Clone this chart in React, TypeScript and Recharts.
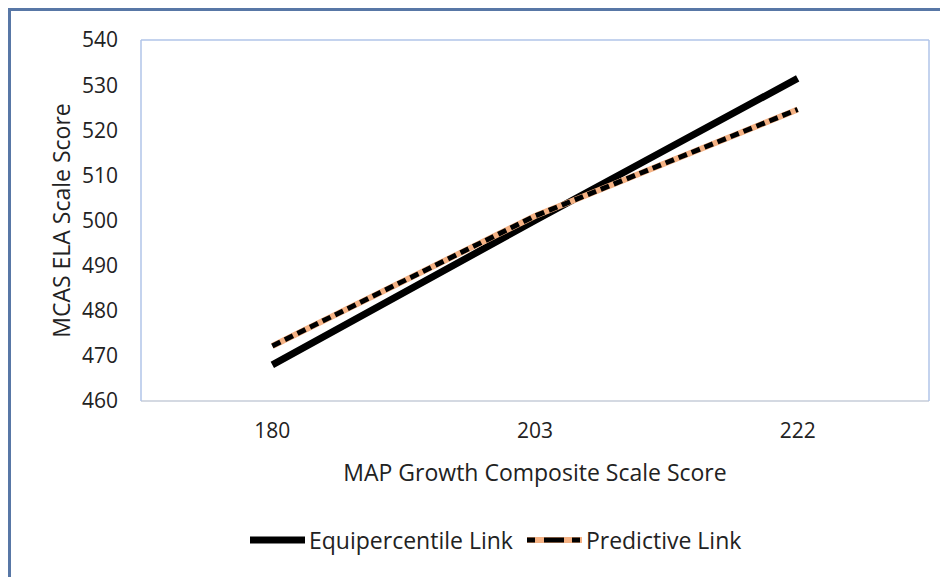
import React from 'react';
import { LineChart, Line, XAxis, YAxis, Legend } from 'recharts';

const categories = ['180', '203', '222'];
const equipercentileLink = [468, 500, 531.5];
const predictiveLink = [472.2, 501, 524.6];
const yTicks = [460, 470, 480, 490, 500, 510, 520, 530, 540];

const data = categories.map((c, i) => ({
  score: c,
  equi: equipercentileLink[i],
  pred: predictiveLink[i],
}));

const FONT = '"Open Sans", sans-serif';
const TEXT = '#222';

const YLabel = (props: any) => {
  const vb = props.viewBox || {};
  const x = vb.x + 20;
  const y = vb.y + vb.height / 2;
  return (
    <text x={x} y={y} transform={`rotate(-90 ${x} ${y})`} textAnchor="middle" dominantBaseline="central"
      fill={TEXT} fontSize={23} fontFamily={FONT}>MCAS ELA Scale Score</text>
  );
};

const XLabel = (props: any) => {
  const vb = props.viewBox || {};
  const x = vb.x + vb.width / 2;
  const y = vb.y + 71;
  return (
    <text x={x} y={y} textAnchor="middle" dominantBaseline="central" fill={TEXT} fontSize={23} fontFamily={FONT}>
      MAP Growth Composite Scale Score
    </text>
  );
};

const LegendContent = () => (
  <div style={{ display: 'flex', alignItems: 'center', fontFamily: FONT, fontSize: 23, color: TEXT, height: 30 }}>
    <svg width={55} height={12} style={{ marginRight: 4 }}>
      <line x1={0} y1={6} x2={55} y2={6} stroke="#000" strokeWidth={7} />
    </svg>
    <span>Equipercentile Link</span>
    <svg width={55} height={12} style={{ marginLeft: 14, marginRight: 4 }}>
      <line x1={0} y1={6} x2={55} y2={6} stroke="#f4b183" strokeWidth={6} />
      <line x1={0} y1={6} x2={55} y2={6} stroke="#000" strokeWidth={5} strokeDasharray="8 9 20 8 8 100" />
    </svg>
    <span>Predictive Link</span>
  </div>
);

export default function App() {
  return (
    <div style={{ borderLeft: '3px solid #5877a6', borderTop: '3px solid #5877a6', width: 937, height: 566, background: '#fff' }}>
      <LineChart width={937} height={566} data={data} margin={{ top: 28, right: 18, left: 30, bottom: 86 }}>
        <XAxis dataKey="score" scale="band" height={90} axisLine={{ stroke: '#d4d9e2', strokeWidth: 2 }} tickLine={false} tickSize={0}
          tickMargin={22} tick={{ fill: TEXT, fontSize: 21, fontFamily: FONT }} label={{ content: XLabel }} />
        <XAxis xAxisId="top" dataKey="score" scale="band" orientation="top" height={1} axisLine={{ stroke: '#b0c4e8', strokeWidth: 1.5 }}
          tick={false} tickLine={false} />
        <YAxis width={100} domain={[460, 540]} ticks={yTicks} axisLine={{ stroke: '#b0c4e8', strokeWidth: 1.5 }}
          tickLine={false} tickSize={0} tickMargin={23} tick={{ fill: TEXT, fontSize: 21, fontFamily: FONT }}
          label={{ content: YLabel }} />
        <YAxis yAxisId="right" orientation="right" width={1} domain={[460, 540]} axisLine={{ stroke: '#b0c4e8', strokeWidth: 1.5 }}
          tick={false} tickLine={false} />
        <Legend verticalAlign="middle" align="center" layout="horizontal" content={LegendContent}
          wrapperStyle={{ top: 514, left: 239, width: 620 }} />
        <Line type="linear" dataKey="equi" name="Equipercentile Link" stroke="#000" strokeWidth={7} dot={false}
          activeDot={false} isAnimationActive={false} />
        <Line type="linear" dataKey="pred" xAxisId="top" yAxisId="right" name="Predictive Link (bg)" stroke="#f4b183" strokeWidth={6} dot={false}
          activeDot={false} legendType="none" isAnimationActive={false} />
        <Line type="linear" dataKey="pred" name="Predictive Link" stroke="#000" strokeWidth={5} strokeDasharray="9 5"
          dot={false} activeDot={false} isAnimationActive={false} />
      </LineChart>
    </div>
  );
}
